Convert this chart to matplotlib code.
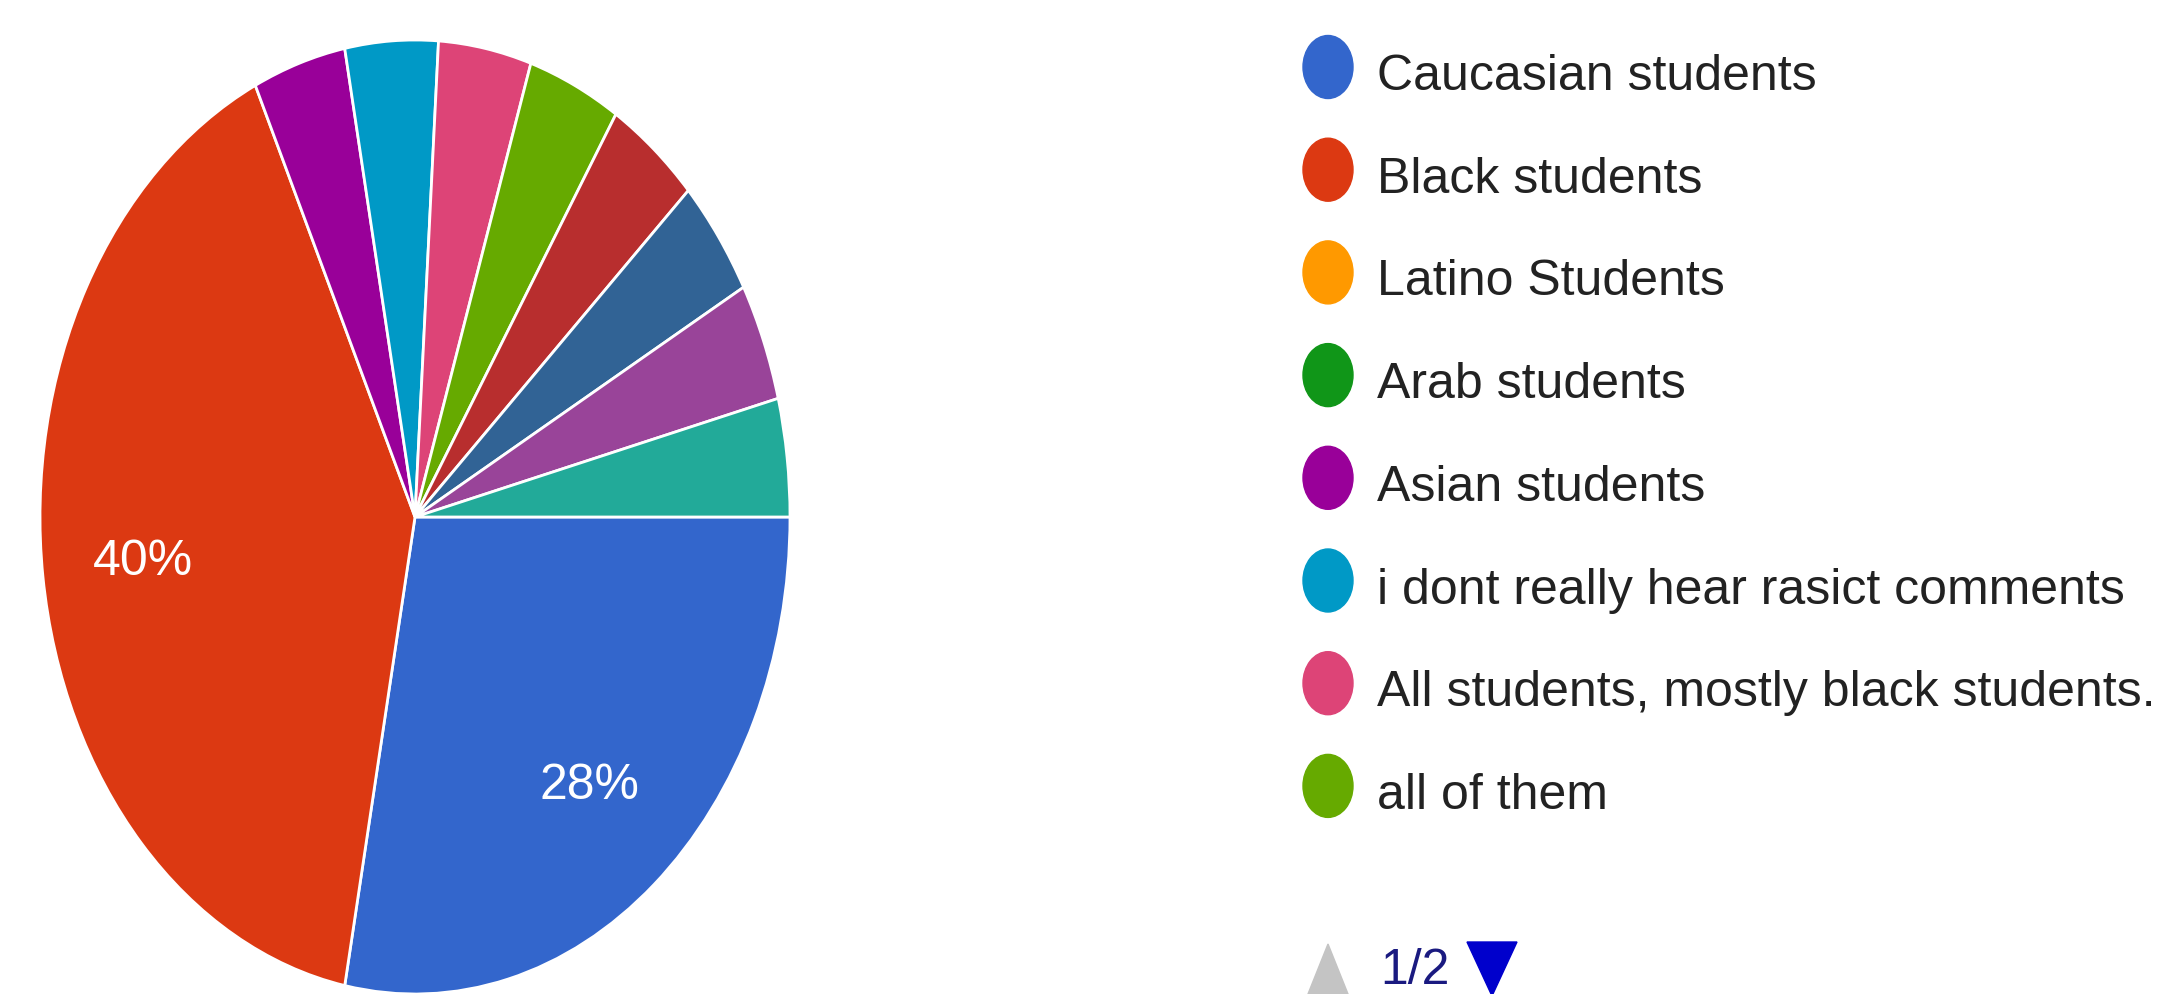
import matplotlib
matplotlib.use("Agg")
import matplotlib.pyplot as plt
from matplotlib import font_manager
from matplotlib.patches import Ellipse, Polygon

# survey answers (legend page 1 shows the first eight)
categories = ["Caucasian students", "Black students", "Latino Students", "Arab students",
              "Asian students", "i dont really hear rasict comments",
              "All students, mostly black students.", "all of them",
              "answer 9", "answer 10", "answer 11", "answer 12"]
shares = [28, 40, 0, 0, 4, 4, 4, 4, 4, 4, 4, 4]
colors = ["#3366cc", "#dc3912", "#ff9900", "#109618", "#990099", "#0099c6",
          "#dd4477", "#66aa00", "#b82e2e", "#316395", "#994499", "#22aa99"]
legend_items = 8
page_label = "1/2"

installed = {f.name for f in font_manager.fontManager.ttflist}
if "Liberation Sans Narrow" in installed:
    fam, fsize = ["Liberation Sans Narrow", "DejaVu Sans"], 44
else:
    fam, fsize = ["Liberation Sans", "DejaVu Sans"], 36

W, H = 2158, 995
fig = plt.figure(figsize=(W / 100, H / 100), dpi=100)

# pie is stretched vertically, like the screenshot
cx, cy, rx, ry = 415, 518, 375, 477
ax = fig.add_axes([(cx - rx) / W, (H - cy - ry) / H, 2 * rx / W, 2 * ry / H])
vals = [v for v in shares if v > 0]
cols = [c for v, c in zip(shares, colors) if v > 0]
ax.pie(vals, colors=cols, startangle=0, counterclock=False,
       autopct=lambda p: f"{p:.0f}%" if p > 10 else "", pctdistance=0.73,
       wedgeprops=dict(edgecolor="white", linewidth=2),
       textprops=dict(color="white", fontsize=fsize, family=fam))
ax.set_aspect("auto")
ax.set_xlim(-1, 1)
ax.set_ylim(-1, 1)
ax.axis("off")

# legend drawn in pixel coordinates
lg = fig.add_axes([0, 0, 1, 1])
lg.set_xlim(0, W)
lg.set_ylim(H, 0)
lg.axis("off")
row0, step = 68, 102.7
for i in range(legend_items):
    y = row0 + i * step
    lg.add_patch(Ellipse((1328, y), 50, 63, color=colors[i]))
    lg.text(1377, y + 22, categories[i], color="#222222", fontsize=fsize,
            family=fam, va="baseline", ha="left")

# pager
lg.add_patch(Polygon([(1306, 1000), (1350, 1000), (1328, 945)], closed=True,
                     color="#c4c4c4"))
lg.text(1380, 984, page_label, color="#1a1a80", fontsize=fsize, family=fam,
        va="baseline", ha="left")
lg.add_patch(Polygon([(1467, 943), (1517, 943), (1492, 997)], closed=True,
                     color="#0000cc"))

fig.savefig("out.png", dpi=100, facecolor="white")
